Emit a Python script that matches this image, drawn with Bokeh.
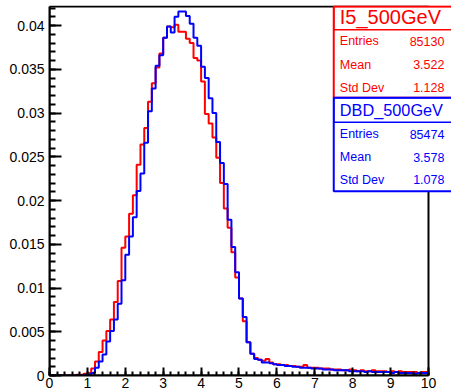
from bokeh.plotting import figure
from bokeh.models import (Range1d, FixedTicker, CustomJSTickFormatter, Span,
                          BoxAnnotation, Label)
from bokeh.embed import file_html
from bokeh.resources import INLINE

# ---------------- data ----------------
bin_edges = [i / 10 for i in range(101)]

i5_500GeV = [
    0, 0, 0, 0, 0, 0, 0, 0.0001, 0.0001, 0.0002,
    0.0003, 0.0008, 0.0016, 0.0027, 0.0040, 0.0051, 0.0064, 0.0084, 0.0108, 0.0146,
    0.0159, 0.0185, 0.0206, 0.0241, 0.0264, 0.0283, 0.0313, 0.0334, 0.0352, 0.0368,
    0.0386, 0.0399, 0.0398, 0.0401, 0.0393, 0.0393, 0.0385, 0.0380, 0.0363, 0.0360,
    0.0336, 0.0299, 0.0288, 0.0272, 0.0249, 0.0220, 0.0191, 0.0169, 0.0141, 0.0112,
    0.0088, 0.0062, 0.0038, 0.0025, 0.0020, 0.0018, 0.0017, 0.0019, 0.0015, 0.0013,
    0.0013, 0.0012, 0.0012, 0.0011, 0.0011, 0.0010, 0.0010, 0.0012, 0.0009, 0.0009,
    0.0009, 0.0008, 0.0008, 0.0008, 0.0007, 0.0007, 0.0007, 0.0006, 0.0006, 0.0007,
    0.0006, 0.0005, 0.0006, 0.0005, 0.0005, 0.0006, 0.0005, 0.0005, 0.0005, 0.0004,
    0.0005, 0.0004, 0.0005, 0.0004, 0.0004, 0.0004, 0.0004, 0.0003, 0.0004, 0.0004,
]

dbd_500GeV = [
    0, 0, 0, 0, 0, 0, 0, 0, 0, 0.0001,
    0.0001, 0.0003, 0.0009, 0.0016, 0.0024, 0.0039, 0.0051, 0.0064, 0.0082, 0.0109,
    0.0138, 0.0159, 0.0181, 0.0211, 0.0231, 0.0266, 0.0302, 0.0328, 0.0354, 0.0366,
    0.0386, 0.0399, 0.0392, 0.0410, 0.0416, 0.0416, 0.0411, 0.0402, 0.0386, 0.0377,
    0.0353, 0.0340, 0.0317, 0.0300, 0.0267, 0.0243, 0.0219, 0.0178, 0.0147, 0.0118,
    0.0088, 0.0067, 0.0038, 0.0025, 0.0019, 0.0018, 0.0015, 0.0015, 0.0014, 0.0013,
    0.0012, 0.0012, 0.0011, 0.0011, 0.0010, 0.0010, 0.0009, 0.0009, 0.0009, 0.0008,
    0.0008, 0.0008, 0.0007, 0.0007, 0.0007, 0.0006, 0.0006, 0.0006, 0.0006, 0.0005,
    0.0005, 0.0005, 0.0005, 0.0004, 0.0005, 0.0004, 0.0004, 0.0004, 0.0004, 0.0004,
    0.0003, 0.0004, 0.0003, 0.0003, 0.0003, 0.0003, 0.0002, 0.0003, 0.0003, 0.0003,
]

x_major_ticks = [0, 1, 2, 3, 4, 5, 6, 7, 8, 9, 10]
x_minor_ticks = [i / 5 for i in range(51)]
y_major_ticks = [0, 0.005, 0.01, 0.015, 0.02, 0.025, 0.03, 0.035, 0.04]
y_minor_ticks = [i / 1000 for i in range(43)]

stat_names = ["Entries", "Mean", "Std Dev"]
i5_title = "I5_500GeV"
i5_stats = ["85130", "3.522", "1.128"]
dbd_title = "DBD_500GeV"
dbd_stats = ["85474", "3.578", "1.078"]

RED = "#ff0000"
BLUE = "#0000ff"
FONT = "Liberation Sans"
X_MAX = 10.0        # histogram axis end
X_VIEW = 10.607     # frame runs to the canvas edge so the stats boxes fit
Y_TOP = 0.04217     # top of the histogram frame
Y_VIEW = 0.042286

# ---------------- figure ----------------
p = figure(width=451, height=392, output_backend="svg", toolbar_location=None,
           x_range=Range1d(0, X_VIEW), y_range=Range1d(0, Y_VIEW),
           min_border_left=49, min_border_right=0, min_border_top=5,
           min_border_bottom=17)
p.background_fill_color = "white"
p.border_fill_color = "white"
p.outline_line_color = None
p.xgrid.visible = False
p.ygrid.visible = False

for ax in (p.xaxis[0], p.yaxis[0]):
    ax.axis_line_width = 2
    ax.axis_line_color = "black"
    ax.major_tick_out = 0
    ax.minor_tick_out = 0
    ax.major_tick_line_width = 2
    ax.minor_tick_line_width = 2
    ax.major_label_text_font = FONT
    ax.major_label_text_font_size = "14px"
    ax.major_label_text_color = "black"

p.xaxis[0].bounds = (0, X_MAX)
p.xaxis[0].ticker = FixedTicker(ticks=x_major_ticks, minor_ticks=x_minor_ticks)
p.xaxis[0].major_tick_in = 8
p.xaxis[0].minor_tick_in = 4
p.xaxis[0].major_label_standoff = 2

p.yaxis[0].bounds = (0, Y_TOP)
p.yaxis[0].ticker = FixedTicker(ticks=y_major_ticks, minor_ticks=y_minor_ticks)
p.yaxis[0].major_tick_in = 12
p.yaxis[0].minor_tick_in = 6
p.yaxis[0].major_label_standoff = 5
p.yaxis[0].formatter = CustomJSTickFormatter(
    code="if (Math.abs(tick) < 1e-12) return '0'; return tick.toFixed(3).replace(/0+$/, '');")

# histograms
p.step(x=bin_edges, y=i5_500GeV + [i5_500GeV[-1]], mode="after",
       line_color=RED, line_width=2)
p.step(x=bin_edges, y=dbd_500GeV + [dbd_500GeV[-1]], mode="after",
       line_color=BLUE, line_width=2)

# frame top and right
p.add_layout(BoxAnnotation(left=0, right=X_MAX, top=Y_TOP, bottom=0,
                           fill_alpha=0.0, line_color="black", line_width=2,
                           line_alpha=1.0))

# ---------------- stats boxes ----------------
BOX_L, BOX_R = 7.5, 10.75


def stats_box(top, sep, bottom, color, title, title_size, title_y, values, rows_y):
    p.add_layout(BoxAnnotation(left=BOX_L, right=BOX_R, top=top, bottom=bottom,
                               fill_color="white", fill_alpha=1.0,
                               line_color=color, line_width=2, line_alpha=1.0))
    p.add_layout(BoxAnnotation(left=BOX_L, right=BOX_R, top=top, bottom=sep,
                               fill_alpha=0.0, line_color=color, line_width=1.5,
                               line_alpha=1.0))
    p.add_layout(Label(x=7.66, y=title_y, text=title, text_font=FONT,
                       text_font_size=title_size, text_color=color,
                       text_align="left", text_baseline="middle"))
    for name, val, yy in zip(stat_names, values, rows_y):
        p.add_layout(Label(x=7.66, y=yy, text=name, text_font=FONT,
                           text_font_size="12.5px", text_color=color,
                           text_align="left", text_baseline="middle"))
        p.add_layout(Label(x=10.42, y=yy, text=val, text_font=FONT,
                           text_font_size="12.5px", text_color=color,
                           text_align="right", text_baseline="middle"))


stats_box(Y_TOP, 0.03951, 0.03174, RED, i5_title, "20px", 0.04095,
          i5_stats, [0.03820, 0.03551, 0.03288])
stats_box(0.03174, 0.02895, 0.02106, BLUE, dbd_title, "16.3px", 0.03037,
          dbd_stats, [0.02758, 0.02495, 0.02240])

open("out.html", "w").write(file_html(p, INLINE))
